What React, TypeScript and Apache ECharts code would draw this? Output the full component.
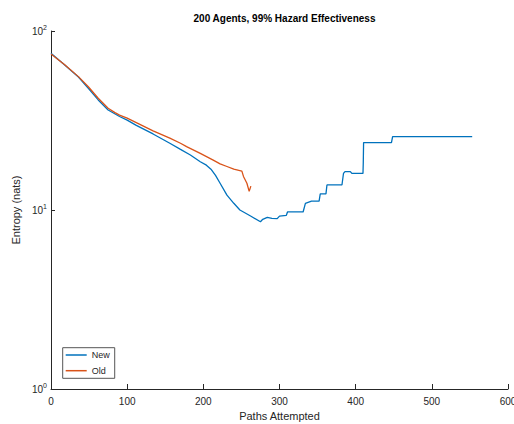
import React, { useEffect, useRef } from "react";
import * as echarts from "echarts";

const titleText = "200 Agents, 99% Hazard Effectiveness";
const xAxisName = "Paths Attempted";
const yAxisName = "Entropy (nats)";
const seriesNames = ["New", "Old"];

const xTicks = [0, 100, 200, 300, 400, 500, 600];
const yTicks = [1, 10, 100];

const newX = [0, 18, 36, 49, 62, 75, 90, 100, 112, 134, 156, 170, 183, 196, 204, 210, 216, 222, 231, 240, 248, 262, 275, 278, 284, 290, 297, 300, 309, 310.5, 331, 334, 342, 352, 353.5, 361, 362.3, 382, 384, 386, 393, 395, 409.6, 410, 410.4, 447, 448.5, 553];
const newY = [75, 64.6, 55.3, 47.9, 41.2, 36.2, 33.3, 31.8, 29.7, 26.6, 23.6, 21.8, 20.3, 18.6, 17.8, 16.9, 15.6, 14.1, 12.1, 10.9, 10.0, 9.26, 8.6, 8.87, 9.1, 8.99, 8.95, 9.25, 9.34, 9.75, 9.75, 10.9, 11.2, 11.2, 12.3, 12.3, 13.8, 13.8, 16.0, 16.4, 16.4, 16.0, 16.0, 18.4, 23.8, 23.8, 25.7, 25.7];

const oldX = [0, 18, 36, 49, 62, 75, 84, 90, 100, 112, 134, 156, 170, 178, 196, 213, 222, 231, 240, 250.6, 252.7, 257.2, 260.2, 262.4];
const oldY = [74.4, 64.8, 55.6, 48.8, 42.1, 37.0, 35.0, 33.9, 32.6, 30.8, 27.7, 25.2, 23.6, 22.6, 20.7, 19.0, 18.1, 17.5, 16.9, 16.5, 15.4, 14.1, 12.7, 13.6];

const FONT = "Liberation Sans, Arial, Helvetica, sans-serif";
const TXT = "#262626";

export default function App() {
  const ref = useRef<HTMLDivElement>(null);
  useEffect(() => {
    if (!ref.current) return;
    const chart = echarts.init(ref.current, undefined, { renderer: "svg" });
    const pairs = (xs: number[], ys: number[]) => xs.map((x, i) => [x, ys[i]]);
    chart.setOption({
      animation: false,
      backgroundColor: "#ffffff",
      title: {
        text: titleText,
        left: 279.5,
        top: 7,
        textAlign: "center",
        textStyle: { fontFamily: FONT, fontSize: 10, fontWeight: "bold", color: "#000", lineHeight: 12 },
      },
      legend: {
        orient: "vertical",
        left: 62.7,
        top: 347.7,
        padding: [1.3, 5, 1.6, 3],
        itemGap: 3.7,
        itemWidth: 21,
        itemHeight: 1.5,
        icon: "rect",
        borderColor: "#555",
        borderWidth: 1,
        backgroundColor: "#fff",
        textStyle: { fontFamily: FONT, fontSize: 9, color: TXT, lineHeight: 12 },
        data: seriesNames,
      },
      grid: { left: 51, right: 6, top: 31, bottom: 35, containLabel: false, outerBoundsMode: "none" },
      xAxis: {
        type: "value",
        min: xTicks[0],
        max: xTicks[xTicks.length - 1],
        interval: 100,
        name: xAxisName,
        nameLocation: "middle",
        nameGap: 20,
        nameTextStyle: { fontFamily: FONT, fontSize: 11, color: TXT },
        axisLine: { show: true, lineStyle: { color: TXT, width: 1 } },
        axisTick: { show: true, inside: true, length: 5, lineStyle: { color: TXT } },
        axisLabel: { fontFamily: FONT, fontSize: 10, color: TXT, margin: 7 },
        splitLine: { show: false },
      },
      yAxis: {
        type: "log",
        logBase: 10,
        min: yTicks[0],
        max: yTicks[yTicks.length - 1],
        name: yAxisName,
        nameLocation: "middle",
        nameGap: 27,
        nameTextStyle: { fontFamily: FONT, fontSize: 11, color: TXT },
        axisLine: { show: true, lineStyle: { color: TXT, width: 1 } },
        axisTick: { show: true, inside: true, length: 4, lineStyle: { color: TXT } },
        minorTick: { show: false },
        splitLine: { show: false },
        axisLabel: {
          margin: 4,
          formatter: (v: number) => `{b|10}{s|${Math.round(Math.log10(v))}}`,
          rich: {
            b: { fontFamily: FONT, fontSize: 10, color: TXT, lineHeight: 14 },
            s: { fontFamily: FONT, fontSize: 7, color: TXT, lineHeight: 14, verticalAlign: "top" },
          },
        },
      },
      series: [
        {
          name: seriesNames[0],
          type: "line",
          data: pairs(newX, newY),
          symbol: "none",
          showSymbol: false,
          lineStyle: { color: "#0072BD", width: 1.3 },
          itemStyle: { color: "#0072BD" },
        },
        {
          name: seriesNames[1],
          type: "line",
          data: pairs(oldX, oldY),
          symbol: "none",
          showSymbol: false,
          lineStyle: { color: "#D95319", width: 1.3 },
          itemStyle: { color: "#D95319" },
        },
      ],
    });
    return () => chart.dispose();
  }, []);
  return (
    <div
      ref={ref}
      style={{ position: "fixed", left: 0, top: 0, width: 514, height: 424, background: "#fff" }}
    />
  );
}
